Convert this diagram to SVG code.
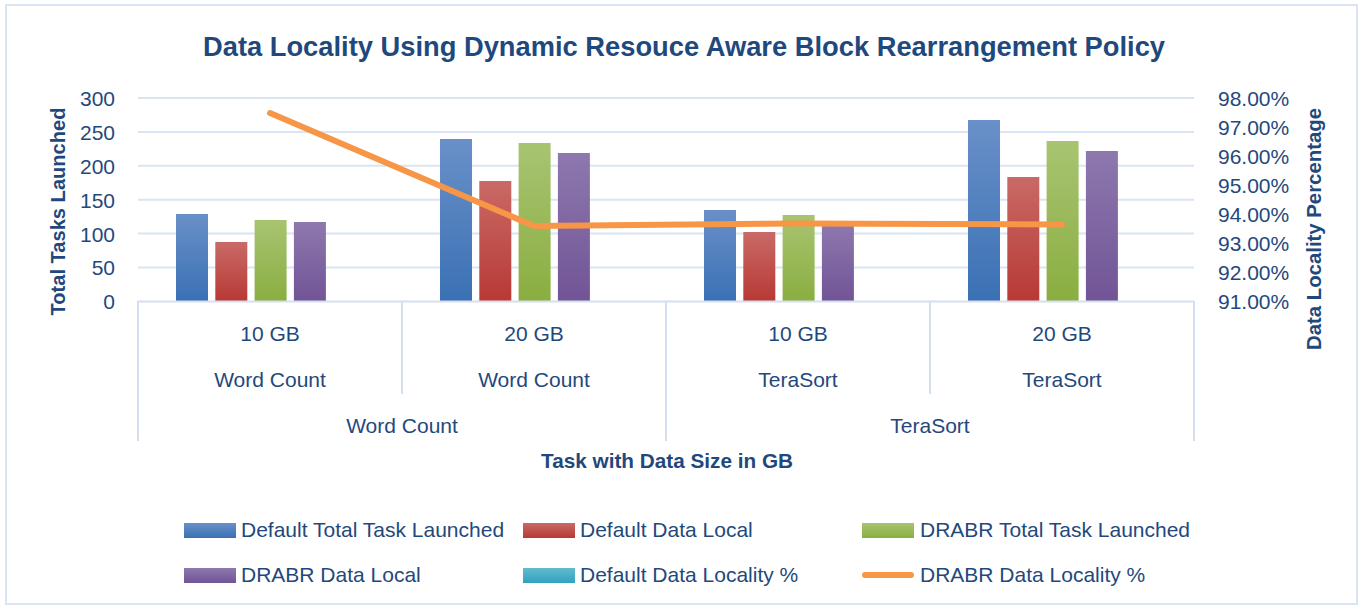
<svg xmlns="http://www.w3.org/2000/svg" width="1361" height="606" viewBox="0 0 1361 606">
<defs>
<linearGradient id="gBlue" x1="0" y1="0" x2="0" y2="1"><stop offset="0" stop-color="#6990C8"/><stop offset="1" stop-color="#3A71B4"/></linearGradient>
<linearGradient id="gRed" x1="0" y1="0" x2="0" y2="1"><stop offset="0" stop-color="#C96A66"/><stop offset="1" stop-color="#B83935"/></linearGradient>
<linearGradient id="gGreen" x1="0" y1="0" x2="0" y2="1"><stop offset="0" stop-color="#A8C471"/><stop offset="1" stop-color="#8AAE41"/></linearGradient>
<linearGradient id="gPurple" x1="0" y1="0" x2="0" y2="1"><stop offset="0" stop-color="#8E78AE"/><stop offset="1" stop-color="#715496"/></linearGradient>
<linearGradient id="gCyan" x1="0" y1="0" x2="0" y2="1"><stop offset="0" stop-color="#62BBD0"/><stop offset="1" stop-color="#30A2BF"/></linearGradient>
<style>
text{font-family:"Liberation Sans",Arial,sans-serif;fill:#1F497D;}
.t{font-size:21px;}
.b{font-weight:bold;}
.grid{stroke:#DAE5F3;stroke-width:2;fill:none;}
.ax{stroke:#D5E0EF;stroke-width:2;fill:none;}
.blue{fill:url(#gBlue);}
.red{fill:url(#gRed);}
.green{fill:url(#gGreen);}
.purple{fill:url(#gPurple);}
.cyan{fill:url(#gCyan);}
.dl{stroke:#F79646;stroke-width:6;fill:none;stroke-linecap:round;stroke-linejoin:round;}
</style>
</defs>
<rect x="0" y="0" width="1361" height="606" fill="#FFFFFF"/>
<rect x="6" y="5" width="1351" height="599" fill="#FFFFFF" stroke="#D9E5F4" stroke-width="2"/>

<g id="title"><text x="684" y="56" text-anchor="middle" class="b" font-size="27" textLength="962" lengthAdjust="spacingAndGlyphs">Data Locality Using Dynamic Resouce Aware Block Rearrangement Policy</text></g>

<g id="gridlines">
<line class="grid" x1="138" y1="98" x2="1194" y2="98"/>
<line class="grid" x1="138" y1="131.9" x2="1194" y2="131.9"/>
<line class="grid" x1="138" y1="165.8" x2="1194" y2="165.8"/>
<line class="grid" x1="138" y1="199.7" x2="1194" y2="199.7"/>
<line class="grid" x1="138" y1="233.5" x2="1194" y2="233.5"/>
<line class="grid" x1="138" y1="267.4" x2="1194" y2="267.4"/>
</g>

<g id="left-axis">
<text class="t" x="115" y="106" text-anchor="end">300</text>
<text class="t" x="115" y="139.9" text-anchor="end">250</text>
<text class="t" x="115" y="173.8" text-anchor="end">200</text>
<text class="t" x="115" y="207.7" text-anchor="end">150</text>
<text class="t" x="115" y="241.5" text-anchor="end">100</text>
<text class="t" x="115" y="275.4" text-anchor="end">50</text>
<text class="t" x="115" y="309.3" text-anchor="end">0</text>
<text class="b" font-size="20" transform="translate(65,211.5) rotate(-90)" text-anchor="middle" textLength="208" lengthAdjust="spacingAndGlyphs">Total Tasks Launched</text>
</g>

<g id="right-axis">
<text class="t" x="1218" y="106">98.00%</text>
<text class="t" x="1218" y="135">97.00%</text>
<text class="t" x="1218" y="164">96.00%</text>
<text class="t" x="1218" y="193">95.00%</text>
<text class="t" x="1218" y="222">94.00%</text>
<text class="t" x="1218" y="251">93.00%</text>
<text class="t" x="1218" y="280">92.00%</text>
<text class="t" x="1218" y="309">91.00%</text>
<text class="b" font-size="20" transform="translate(1321,229) rotate(-90)" text-anchor="middle" textLength="242" lengthAdjust="spacingAndGlyphs">Data Locality Percentage</text>
</g>

<g id="bars-wordcount-10gb">
<rect class="blue" x="176" y="214" width="32" height="87"/>
<rect class="red" x="215.3" y="242" width="32" height="59"/>
<rect class="green" x="254.6" y="220" width="32" height="81"/>
<rect class="purple" x="293.9" y="222" width="32" height="79"/>
</g>
<g id="bars-wordcount-20gb">
<rect class="blue" x="440" y="139" width="32" height="162"/>
<rect class="red" x="479.3" y="181" width="32" height="120"/>
<rect class="green" x="518.6" y="143" width="32" height="158"/>
<rect class="purple" x="557.9" y="153" width="32" height="148"/>
</g>
<g id="bars-terasort-10gb">
<rect class="blue" x="704" y="210" width="32" height="91"/>
<rect class="red" x="743.3" y="232" width="32" height="69"/>
<rect class="green" x="782.6" y="215" width="32" height="86"/>
<rect class="purple" x="821.9" y="224" width="32" height="77"/>
</g>
<g id="bars-terasort-20gb">
<rect class="blue" x="968" y="120" width="32" height="181"/>
<rect class="red" x="1007.3" y="177" width="32" height="124"/>
<rect class="green" x="1046.6" y="141" width="32" height="160"/>
<rect class="purple" x="1085.9" y="151" width="32" height="150"/>
</g>

<g id="category-axis">
<line class="ax" x1="138" y1="301.5" x2="1194" y2="301.5"/>
<line class="ax" x1="138" y1="301" x2="138" y2="441"/>
<line class="ax" x1="402" y1="301" x2="402" y2="394"/>
<line class="ax" x1="666" y1="301" x2="666" y2="441"/>
<line class="ax" x1="930" y1="301" x2="930" y2="394"/>
<line class="ax" x1="1194" y1="301" x2="1194" y2="441"/>
<text class="t" x="270" y="340.5" text-anchor="middle">10 GB</text>
<text class="t" x="534" y="340.5" text-anchor="middle">20 GB</text>
<text class="t" x="798" y="340.5" text-anchor="middle">10 GB</text>
<text class="t" x="1062" y="340.5" text-anchor="middle">20 GB</text>
<text class="t" x="270" y="386.5" text-anchor="middle">Word Count</text>
<text class="t" x="534" y="386.5" text-anchor="middle">Word Count</text>
<text class="t" x="798" y="386.5" text-anchor="middle">TeraSort</text>
<text class="t" x="1062" y="386.5" text-anchor="middle">TeraSort</text>
<text class="t" x="402" y="432.5" text-anchor="middle">Word Count</text>
<text class="t" x="930" y="432.5" text-anchor="middle">TeraSort</text>
<text class="b" font-size="20.5" x="667" y="468" text-anchor="middle" textLength="252" lengthAdjust="spacingAndGlyphs">Task with Data Size in GB</text>
</g>

<g id="connectors">
<polyline class="dl" points="270,113 534,226 798,223.5 1062,224.5"/>
</g>

<g id="legend">
<rect class="blue" x="184" y="523" width="52" height="15"/>
<text class="t" x="241" y="537">Default Total Task Launched</text>
<rect class="red" x="523" y="523" width="52" height="15"/>
<text class="t" x="580" y="537">Default Data Local</text>
<rect class="green" x="862" y="523" width="52" height="15"/>
<text class="t" x="920" y="537">DRABR Total Task Launched</text>
<rect class="purple" x="184" y="568" width="52" height="15"/>
<text class="t" x="241" y="582">DRABR Data Local</text>
<rect class="cyan" x="523" y="568" width="52" height="15"/>
<text class="t" x="580" y="582">Default Data Locality %</text>
<line class="dl" x1="865" y1="575" x2="911" y2="575"/>
<text class="t" x="920" y="582">DRABR Data Locality %</text>
</g>
</svg>
